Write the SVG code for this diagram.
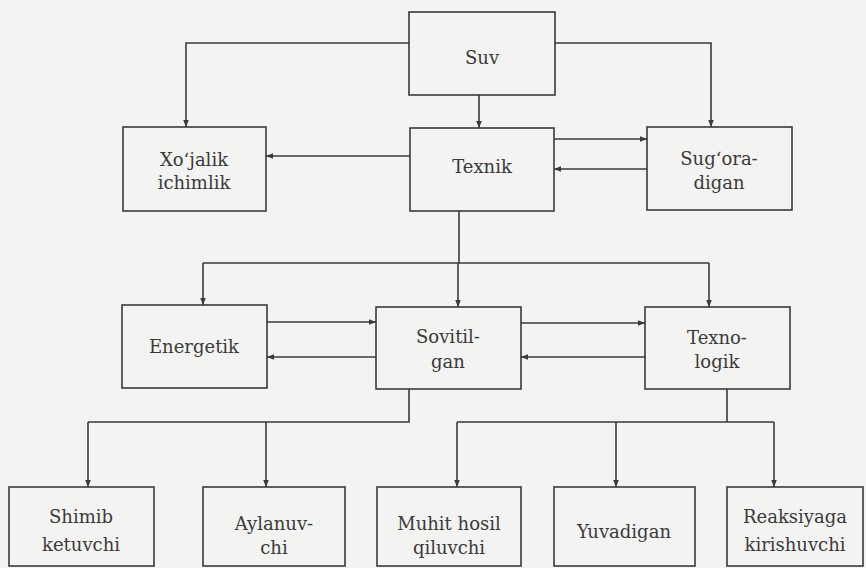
<svg xmlns="http://www.w3.org/2000/svg" width="866" height="568" viewBox="0 0 866 568">
<defs>
<marker id="ah" viewBox="0 0 10 10" refX="10" refY="5" markerWidth="7" markerHeight="7" markerUnits="userSpaceOnUse" orient="auto">
<path d="M0,1 L10,5 L0,9 z" fill="#3a3a3a"/>
</marker>
<style>
.box{fill:none;stroke:#3a3a3a;stroke-width:1.6}
.t{font-family:'DejaVu Serif','Liberation Serif',serif;font-size:18px;fill:#3a3a3a;text-anchor:middle}
.c{fill:none;stroke:#3a3a3a;stroke-width:1.6}
.a{marker-end:url(#ah)}
</style>
</defs>
<rect width="866" height="568" fill="#f3f3f1"/>
<g id="connectors">
<path class="c a" d="M409,43 H186 V127"/>
<path class="c a" d="M555,43 H711 V127"/>
<path class="c a" d="M479,95 V128"/>
<path class="c a" d="M410,156 H266"/>
<path class="c a" d="M554,139 H647"/>
<path class="c a" d="M647,169 H554"/>
<path class="c" d="M459,211 V263 M203,263 H709"/>
<path class="c a" d="M203,263 V305"/>
<path class="c a" d="M458,263 V307"/>
<path class="c a" d="M709,263 V307"/>
<path class="c a" d="M267,322 H376"/>
<path class="c a" d="M376,357 H267"/>
<path class="c a" d="M521,323 H645"/>
<path class="c a" d="M645,357 H521"/>
<path class="c" d="M409,389 V422 H88"/>
<path class="c a" d="M88,422 V487"/>
<path class="c a" d="M266,422 V487"/>
<path class="c" d="M727,389 V422 M457,422 H774"/>
<path class="c a" d="M457,422 V487"/>
<path class="c a" d="M616,422 V487"/>
<path class="c a" d="M774,422 V487"/>
</g>
<g id="suv"><rect class="box" x="409" y="12" width="146" height="83"/><text class="t" x="482" y="64">Suv</text></g>
<g id="xojalik"><rect class="box" x="123" y="127" width="143" height="84"/><text class="t" x="194" y="166">Xo‘jalik</text><text class="t" x="194" y="189">ichimlik</text></g>
<g id="texnik"><rect class="box" x="410" y="128" width="144" height="83"/><text class="t" x="482" y="173">Texnik</text></g>
<g id="sugoradigan"><rect class="box" x="647" y="127" width="145" height="83"/><text class="t" x="719" y="165">Sug‘ora-</text><text class="t" x="719" y="189">digan</text></g>
<g id="energetik"><rect class="box" x="122" y="305" width="145" height="83"/><text class="t" x="194" y="353">Energetik</text></g>
<g id="sovitilgan"><rect class="box" x="376" y="307" width="145" height="82"/><text class="t" x="448" y="343">Sovitil-</text><text class="t" x="448" y="368">gan</text></g>
<g id="texnologik"><rect class="box" x="645" y="307" width="145" height="82"/><text class="t" x="717" y="344">Texno-</text><text class="t" x="717" y="368">logik</text></g>
<g id="shimib"><rect class="box" x="9" y="487" width="145" height="79"/><text class="t" x="81" y="523">Shimib</text><text class="t" x="81" y="551">ketuvchi</text></g>
<g id="aylanuvchi"><rect class="box" x="203" y="487" width="142" height="79"/><text class="t" x="274" y="530">Aylanuv-</text><text class="t" x="274" y="554">chi</text></g>
<g id="muhit"><rect class="box" x="377" y="487" width="144" height="79"/><text class="t" x="449" y="530">Muhit hosil</text><text class="t" x="449" y="554">qiluvchi</text></g>
<g id="yuvadigan"><rect class="box" x="554" y="487" width="141" height="79"/><text class="t" x="624" y="538">Yuvadigan</text></g>
<g id="reaksiyaga"><rect class="box" x="727" y="487" width="136" height="79"/><text class="t" x="795" y="523">Reaksiyaga</text><text class="t" x="795" y="551">kirishuvchi</text></g>
</svg>
